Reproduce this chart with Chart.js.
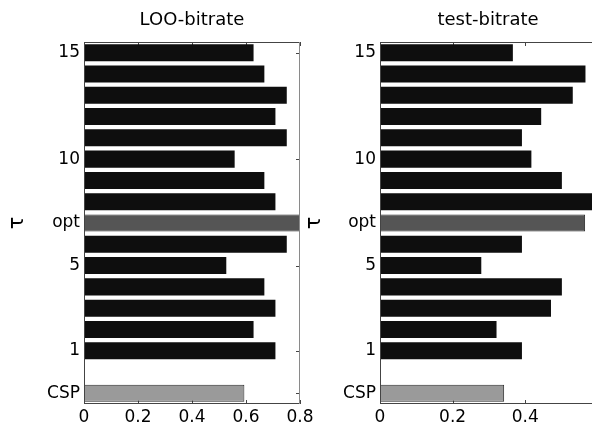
<!DOCTYPE html>
<html>
<head>
<meta charset="utf-8">
<script src="https://cdn.jsdelivr.net/npm/chart.js@4"></script>
<style>
  html, body { margin: 0; padding: 0; background: #fff; overflow: hidden; }
  #wrap { position: relative; width: 592px; height: 427px; overflow: hidden; }
  canvas { position: absolute; top: 0; }
</style>
</head>
<body>
<div id="wrap">
  <canvas id="loo" width="320" height="427" style="left:0"></canvas>
  <canvas id="test" width="310" height="427" style="left:300px"></canvas>
</div>
<script>
// rows from top to bottom, '' is the empty row above CSP
const cats = ['15', '14', '13', '12', '11', '10', '9', '8', 'opt', '6', '5', '4', '3', '2', '1', '', 'CSP'];
const tickCats = ['15', '10', 'opt', '5', '1', 'CSP'];
const looVals = [0.628, 0.668, 0.751, 0.709, 0.751, 0.558, 0.668, 0.709, 0.80, 0.751, 0.527, 0.668, 0.709, 0.628, 0.709, null, 0.594];
const testVals = [0.366, 0.566, 0.531, 0.444, 0.391, 0.417, 0.501, 0.60, 0.565, 0.391, 0.279, 0.501, 0.471, 0.321, 0.391, null, 0.342];
const looTicks = [0, 0.2, 0.4, 0.6, 0.8];
const testTicks = [0, 0.2, 0.4];

const FONT = 'DejaVu Sans';

function barColor(c) {
  if (c === 'opt') return '#555555';
  if (c === 'CSP') return '#9a9a9a';
  return '#0e0e0e';
}

// MATLAB style box with inward ticks
const frameTicks = {
  id: 'frameTicks',
  beforeDatasetsDraw(chart) {
    const { ctx, chartArea: a, scales: { x, y } } = chart;
    ctx.save();
    ctx.strokeStyle = '#444';
    ctx.lineWidth = 1;
    ctx.beginPath();
    x.ticks.forEach(t => {
      const px = Math.round(x.getPixelForValue(t.value)) + 0.5;
      ctx.moveTo(px, a.top); ctx.lineTo(px, a.top + 4);
      ctx.moveTo(px, a.bottom); ctx.lineTo(px, a.bottom - 4);
    });
    y.ticks.forEach(t => {
      if (!tickCats.includes(y.getLabelForValue(t.value))) return;
      const py = Math.round(y.getPixelForValue(t.value)) + 0.5;
      ctx.moveTo(a.left, py); ctx.lineTo(a.left + 4, py);
      ctx.moveTo(a.right, py); ctx.lineTo(a.right - 4, py);
    });
    ctx.stroke();
    ctx.restore();
  },
  afterDatasetsDraw(chart) {
    const { ctx, chartArea: a } = chart;
    const l = Math.round(a.left) + 0.5, r = Math.round(a.right) - 0.5;
    const t = Math.round(a.top) + 0.5, b = Math.round(a.bottom) - 0.5;
    ctx.save();
    ctx.lineWidth = 1;
    ctx.strokeStyle = '#444';
    ctx.beginPath();
    ctx.moveTo(l, b); ctx.lineTo(l, t); ctx.lineTo(r, t);
    ctx.moveTo(l, b); ctx.lineTo(r, b);
    ctx.stroke();
    ctx.strokeStyle = '#8a8a8a';
    ctx.beginPath();
    ctx.moveTo(r, t); ctx.lineTo(r, b);
    ctx.stroke();
    ctx.restore();
  }
};

function makeChart(id, title, vals, xMax, xTicks, yWidth, titlePad, padRight) {
  return new Chart(document.getElementById(id), {
    type: 'bar',
    data: {
      labels: cats,
      datasets: [{
        data: vals,
        backgroundColor: cats.map(barColor),
        borderColor: '#2a2a2a',
        borderWidth: cats.map(c => (c === 'opt' || c === 'CSP') ? 1 : 0),
        borderSkipped: false,
        barPercentage: 0.8,
        categoryPercentage: 1
      }]
    },
    options: {
      indexAxis: 'y',
      responsive: false,
      animation: false,
      devicePixelRatio: 1,
      layout: { padding: { top: 0, right: padRight, bottom: 0, left: 0 } },
      plugins: {
        legend: { display: false },
        tooltip: { enabled: false },
        title: {
          display: true,
          fullSize: false,
          text: title,
          color: '#000',
          font: { family: FONT, size: 18, weight: 'normal' },
          padding: { top: 10, bottom: 10.4 }
        }
      },
      scales: {
        x: {
          min: 0,
          max: xMax,
          grid: { display: false, drawTicks: false },
          border: { display: false },
          afterBuildTicks: s => { s.ticks = xTicks.map(v => ({ value: v })); },
          afterFit: s => { s.height = 23; },
          ticks: { color: '#000', padding: 3, font: { family: FONT, size: 17 } }
        },
        y: {
          type: 'category',
          offset: true,
          grid: { display: false, drawTicks: false },
          border: { display: false },
          afterFit: s => { s.width = yWidth; },
          ticks: {
            autoSkip: false,
            color: '#000',
            padding: 4,
            font: { family: FONT, size: 17 },
            callback: function (v) {
              const l = this.getLabelForValue(v);
              return tickCats.includes(l) ? l : '';
            }
          },
          title: {
            display: true,
            text: 'τ',
            color: '#000',
            font: { family: FONT, size: 21 },
            padding: { top: titlePad + 2, bottom: 0 }
          }
        }
      }
    },
    plugins: [frameTicks]
  });
}

makeChart('loo', 'LOO-bitrate', looVals, 0.8, looTicks, 84, 3, 20);
makeChart('test', 'test-bitrate', testVals, 0.595, testTicks, 80, 0, 14);
</script>
</body>
</html>
